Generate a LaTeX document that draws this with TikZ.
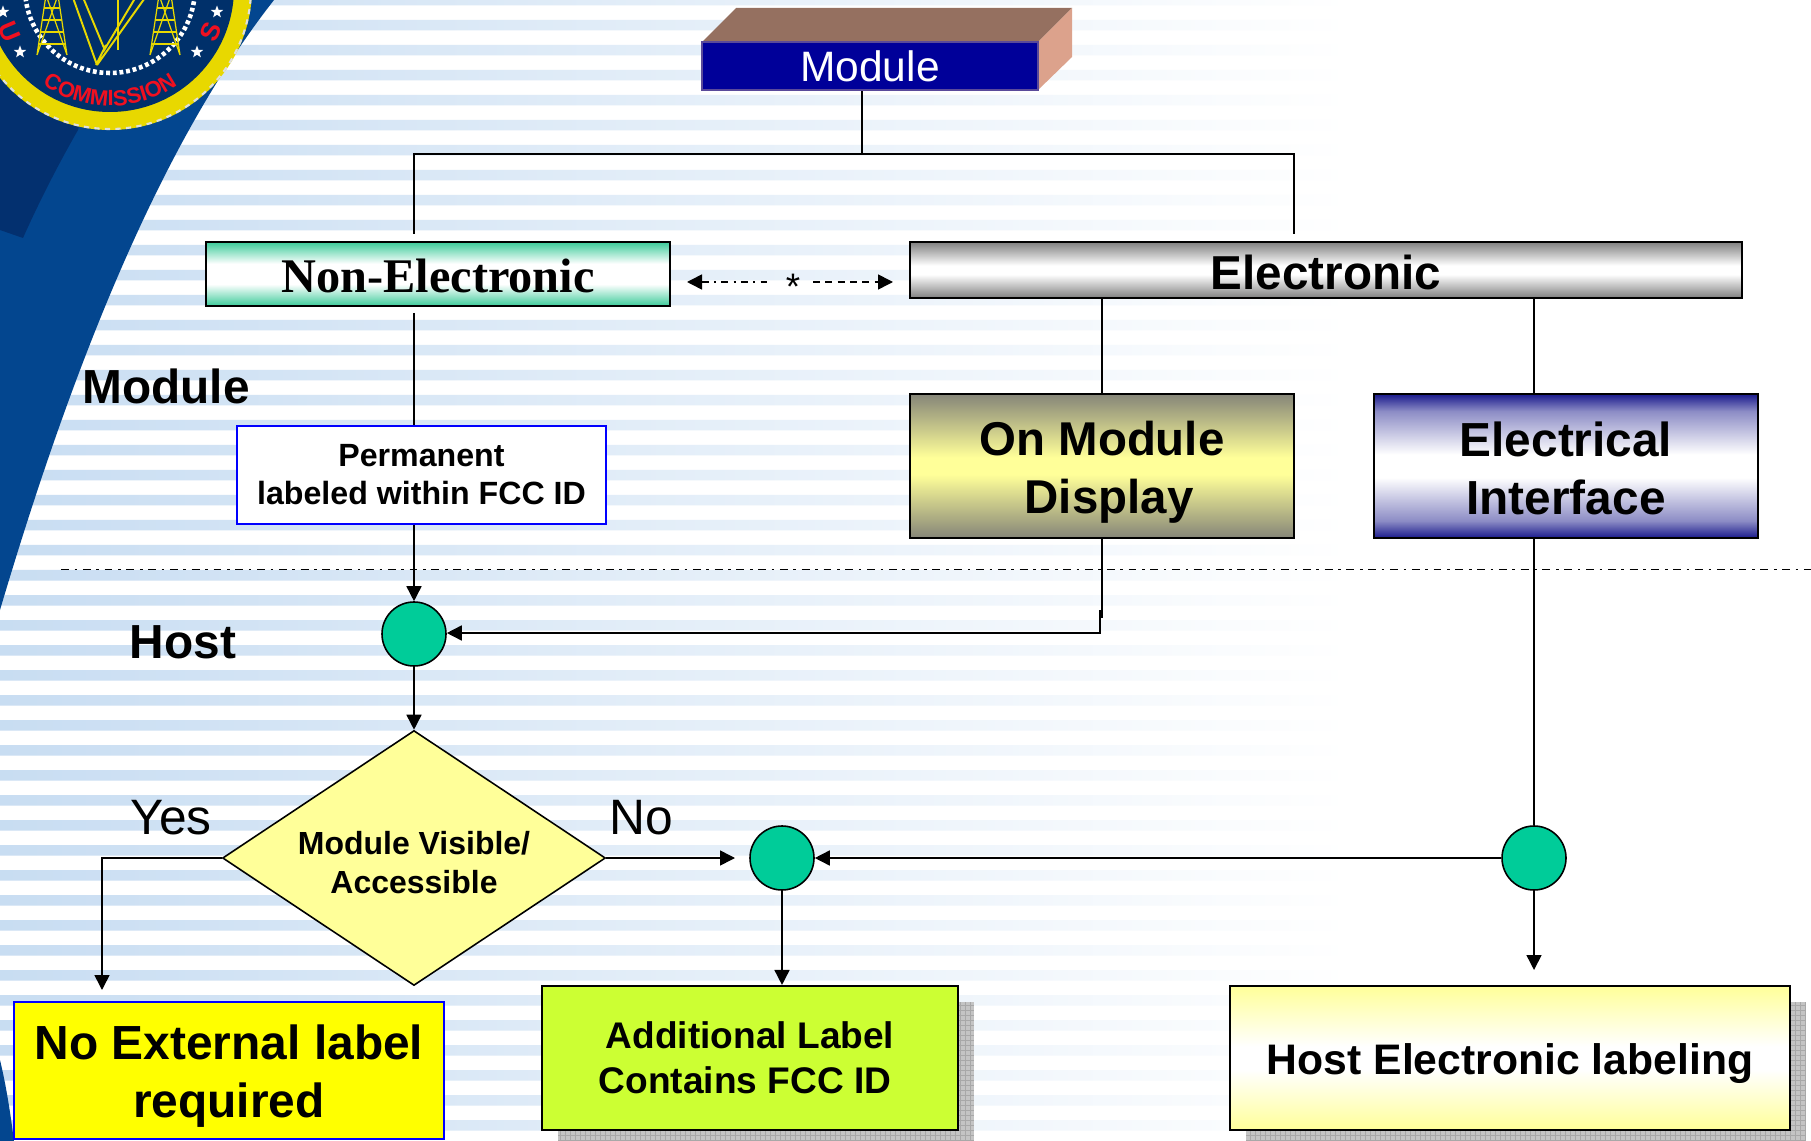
\documentclass[tikz,border=0pt]{standalone}
\usepackage{fontspec}
\setmainfont{Liberation Sans}
\newfontfamily\serifb{Liberation Serif}
\usetikzlibrary{arrows.meta,shapes.geometric,decorations.text}
\definecolor{stripe}{HTML}{C8DDF2}
\definecolor{stripemid}{HTML}{E2EDF8}
\definecolor{swoosh}{HTML}{03468F}
\definecolor{swooshdark}{HTML}{03306F}
\definecolor{navy}{HTML}{00306A}
\definecolor{sealyellow}{HTML}{E8D800}
\definecolor{sealred}{HTML}{F01020}
\definecolor{modblue}{HTML}{000099}
\definecolor{modedge}{HTML}{5A4A9A}
\definecolor{modtop}{HTML}{957060}
\definecolor{modside}{HTML}{DCA28C}
\definecolor{teal}{HTML}{00CC99}
\definecolor{palegold}{HTML}{FFFF99}
\definecolor{lime}{HTML}{CCFF33}
\definecolor{pureyellow}{rgb}{1,1,0}
\definecolor{shadowgray}{HTML}{C4C4C4}
\definecolor{gridgray}{HTML}{A8A8A8}
\definecolor{nongreen}{HTML}{3CCB9A}
\definecolor{olive}{HTML}{858578}
\definecolor{elblue}{HTML}{1A1A8C}
\pgfdeclareverticalshading{bandgreenb}{100bp}{color(0bp)=(nongreen);color(25bp)=(nongreen);color(42bp)=(white);color(58bp)=(white);color(75bp)=(nongreen);color(100bp)=(nongreen)}
\pgfdeclareverticalshading{bandgray}{100bp}{color(0bp)=(black!50);color(25bp)=(black!50);color(46bp)=(white);color(54bp)=(white);color(75bp)=(black!50);color(100bp)=(black!50)}
\pgfdeclareverticalshading{bandolive}{100bp}{color(0bp)=(olive);color(25bp)=(olive);color(47bp)=(palegold);color(53bp)=(palegold);color(75bp)=(olive);color(100bp)=(olive)}
\pgfdeclareverticalshading{bandblue}{100bp}{color(0bp)=(elblue);color(25bp)=(elblue);color(31bp)=(elblue!50!white);color(46bp)=(white);color(54bp)=(white);color(69bp)=(elblue!50!white);color(75bp)=(elblue);color(100bp)=(elblue)}
\pgfdeclareverticalshading{bandpale}{100bp}{color(0bp)=(palegold);color(25bp)=(palegold);color(46bp)=(white);color(54bp)=(white);color(75bp)=(palegold);color(100bp)=(palegold)}
\tikzset{
  box/.style={draw=black,line width=1.2pt,inner sep=0pt,align=center,text=black},
  flow/.style={draw=black,line width=0.9pt},
  arrowed/.style={flow,-{Triangle[length=0.3cm,width=0.3cm]}},
  dot/.style={circle,draw=black,line width=0.9pt,fill=teal,minimum size=64*0.02cm,inner sep=0pt},
  biglabel/.style={font=\fontsize{27.2}{33}\selectfont\bfseries,text=black,inner sep=0pt,align=center},
  thinlabel/.style={font=\fontsize{28.3}{33}\selectfont,text=black,inner sep=0pt},
  tower/.style={draw=sealyellow,line width=0.7pt}
}
\begin{document}
\begin{tikzpicture}[x=0.02cm,y=-0.02cm]
\useasboundingbox (0,0) rectangle (1811,1141);
\clip (0,0) rectangle (1811,1141);
\fill[white] (0,0) rectangle (1811,1141);
% stripes
\begin{scope}
  \clip \foreach \k in {0,...,45} { (0,{-5+25*\k}) rectangle (1811,{5.5+25*\k}) };
  \shade[left color=stripe,middle color=stripemid,right color=white] (0,0) rectangle (1350,1141);
\end{scope}
% swoosh
\fill[swoosh] (0,-5) -- (278,-5) .. controls (170,130) and (80,340) .. (0,610) -- cycle;
\fill[swoosh] (0,1060) .. controls (6,1085) and (10,1110) .. (14,1141) -- (0,1141) -- cycle;
\fill[swooshdark] (0,-5) -- (110,-5) -- (78,130) .. controls (58,165) and (40,200) .. (23,238) -- (0,230) -- cycle;
% seal
\coordinate (sealc) at (110,-12);
\fill[sealyellow] (sealc) circle (142);
\draw[white!75!gray,line width=1.2pt,dash pattern=on 3pt off 3pt] (sealc) circle (141);
\fill[navy] (sealc) circle (124);
\draw[white,line width=2.6pt,dash pattern=on 2.2pt off 1.6pt] (sealc) circle (85);
\foreach \q in {52,165}{
  \begin{scope}[shift={(\q,0)}]
    \draw[tower] (-6,-5) -- (-15,55) (6,-5) -- (15,55) (-6,-5) -- (15,55) (6,-5) -- (-15,55);
    \foreach \h/\w in {8/8,20/10,32/12,44/13}{ \draw[tower] (-\w,\h) -- (\w,\h); }
  \end{scope}
}
\draw[tower,line width=1.1pt] (97,65) -- (72,-5) (104,48) -- (82,-5) (97,65) -- (147,-5) (103,52) -- (137,-5) (118,-5) -- (118,50) (96,65) -- (106,45);
\foreach \sx/\sy in {217/12,197/52,20/52,3/12}{
  \node[star,star points=5,star point ratio=2.4,fill=white,inner sep=0pt,minimum size=13*0.02cm] at (\sx,\sy) {};
}
\node[text=sealred,font=\fontsize{15}{15}\selectfont\bfseries,rotate=-67,inner sep=0pt] (sealu) at (9,32) {U};
\node[text=sealred,font=\fontsize{15}{15}\selectfont\bfseries,rotate=66,inner sep=0pt] (seals) at (211,32) {S};
\path[decorate,decoration={text along path,text align=center,text={|\fontsize{12.5}{13}\selectfont\bfseries\color{sealred}|COMMISSION}}]
  (38,81.5) .. controls (80,114) and (140,114) .. (182,81.5);
% shadows
\foreach \xa/\xb in {558/974,1246/1806}{
  \fill[shadowgray] (\xa,1002) rectangle (\xb,1141);
  \draw[gridgray,line width=0.25pt,step=0.1cm] (\xa,1002) grid (\xb,1141);
}
% module block
\fill[modtop] (702,42) -- (736,8) -- (1072,8) -- (1038,42) -- cycle;
\fill[modside] (1038,42) -- (1072,8) -- (1072,57) -- (1038,90) -- cycle;
\node[draw=modedge,line width=1.2pt,fill=modblue,text=white,inner sep=0pt,minimum width=336*0.02cm,minimum height=48*0.02cm,font=\fontsize{24.2}{28}\selectfont] (mod) at (870,66) {Module};
% boxes
\node[box,shade,shading=bandgreenb,minimum width=464*0.02cm,minimum height=64*0.02cm,font=\fontsize{27.5}{30}\selectfont\serifb\bfseries] (non) at (438,274) {\rule{0pt}{21pt}Non-Electronic};
\node[box,shade,shading=bandgray,minimum width=832*0.02cm,minimum height=56*0.02cm,font=\fontsize{27.1}{30}\selectfont\bfseries] (ele) at (1326,270) {\rule{0pt}{22.3pt}Electronic};
\node[box,draw=blue,fill=white,minimum width=369*0.02cm,minimum height=98*0.02cm,font=\fontsize{18.3}{21.7}\selectfont\bfseries] (perm) at (421.5,475) {Permanent\\labeled within FCC ID};
\node[box,shade,shading=bandolive,minimum width=384*0.02cm,minimum height=144*0.02cm,font=\fontsize{27}{33}\selectfont\bfseries] (onm) at (1102,466) {\rule{0pt}{26.5pt}On Module\\\hspace*{0.28cm}Display};
\node[box,shade,shading=bandblue,minimum width=384*0.02cm,minimum height=144*0.02cm,font=\fontsize{27.2}{33}\selectfont\bfseries] (eli) at (1566,466) {\rule{0pt}{22.3pt}Electrical\\Interface};
\node[dot] (c1) at (414,634) {};
\node[dot] (c2) at (782,858) {};
\node[dot] (c3) at (1534,858) {};
\node[diamond,aspect=1.5,draw=black,line width=0.9pt,fill=palegold,minimum width=383*0.02cm,minimum height=255*0.02cm,inner sep=0pt,align=center,font=\fontsize{18.2}{22}\selectfont\bfseries] (vis) at (414,858) {\rule{0pt}{18.7pt}Module Visible/\\Accessible};
\node[box,draw=blue,fill=pureyellow,minimum width=430*0.02cm,minimum height=137*0.02cm,font=\fontsize{27.25}{33}\selectfont\bfseries] (noext) at (229,1070.5) {\rule{0pt}{26.5pt}No External label\\required};
\node[box,fill=lime,minimum width=416*0.02cm,minimum height=144*0.02cm,font=\fontsize{21.1}{25.6}\selectfont\bfseries] (add) at (750,1058) {Additional Label\\\hspace*{-0.2cm}Contains FCC ID};
\node[box,shade,shading=bandpale,minimum width=560*0.02cm,minimum height=144*0.02cm,font=\fontsize{24.3}{28}\selectfont\bfseries] (hel) at (1510,1058) {\rule{0pt}{24.3pt}Host Electronic labeling};
% labels
\node[biglabel] (lmod) at (166,386) {Module};
\node[biglabel] (lhost) at (183,642) {Host};
\node[thinlabel] (lyes) at (171,818) {Yes};
\node[thinlabel] (lno) at (641,818) {No};
% named free coordinates
\coordinate (stem) at (862,154);
\coordinate (busl) at (414,154);
\coordinate (busr) at (1294,154);
\coordinate (busle) at (414,234);
\coordinate (busre) at (1294,234);
\coordinate (nonout) at (414,313);
\coordinate (ondrop) at (1102,618);
\coordinate (ontop) at (1100,610);
\coordinate (onbend) at (1100,633);
\coordinate (elx) at (1534,298);
\coordinate (yesend) at (102,990);
\coordinate (yesbend) at (102,858);
\coordinate (noend) at (735,858);
\coordinate (c3end) at (1534,970);
\coordinate (da) at (687,282);
\coordinate (db) at (767,282);
\coordinate (dc) at (813,282);
\coordinate (dd) at (893,282);
\coordinate (sepa) at (61,569.5);
\coordinate (sepb) at (1811,569.5);
% separator
\draw[black,line width=0.85pt,dash pattern=on 4.5pt off 3.2pt on 1.5pt off 3.2pt] (sepa) -- (sepb);
% connectors
\draw[flow] (mod.south -| stem) -- (stem);
\draw[flow] (busle) -- (busl) -- (busr) -- (busre);
\draw[flow] (nonout) -- (perm.north -| nonout);
\draw[arrowed] (perm.south -| c1) -- (c1.north);
\draw[flow] (ele.south -| onm) -- (onm.north);
\draw[flow] (ele.south -| elx) -- (eli.north -| elx);
\draw[flow,line width=1.5pt] (onm.south) -- (ondrop);
\draw[arrowed] (ontop) -- (onbend) -- (c1.east |- onbend);
\draw[arrowed] (c1.south) -- (vis.north);
\draw[arrowed] (vis.west) -- (yesbend) -- (yesend);
\draw[arrowed] (vis.east) -- (noend);
\draw[arrowed] (c3.west) -- (c2.east);
\draw[arrowed] (c2.south) -- (add.north -| c2);
\draw[flow] (eli.south -| c3) -- (c3.north);
\draw[arrowed] (c3.south) -- (c3end);
% relation arrow
\draw[flow,{Triangle[length=0.3cm,width=0.3cm]}-,dash pattern=on 4pt off 3pt on 1.2pt off 3pt] (da) -- (db);
\draw[flow,-{Triangle[length=0.3cm,width=0.3cm]},dash pattern=on 4pt off 3pt] (dc) -- (dd);
\node[inner sep=0pt,font=\fontsize{21}{21}\selectfont] (ast) at (793,287) {*};
\end{tikzpicture}
\end{document}
